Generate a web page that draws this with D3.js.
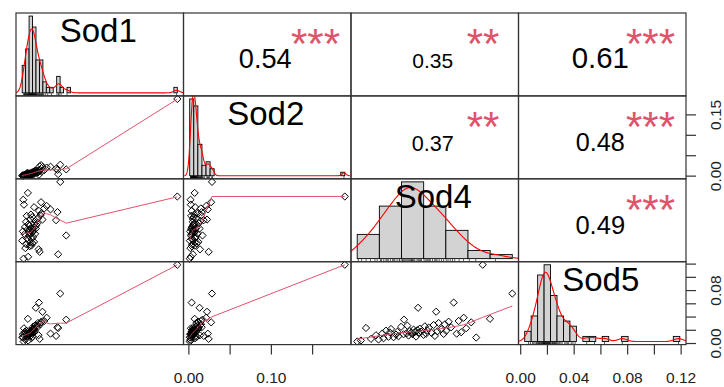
<!DOCTYPE html>
<html>
<head>
<meta charset="utf-8">
<script src="https://cdn.jsdelivr.net/npm/d3@7"></script>
<style>
body { margin: 0; background: #fff; }
svg { display: block; font-family: "Liberation Sans", Arial, sans-serif; }
</style>
</head>
<body>
<div id="chart"></div>
<script>
// variable names on the diagonal
var names = ['Sod1', 'Sod2', 'Sod4', 'Sod5'];

// observations (same order in every array)
var sod1 = [0.008, 0.021, 0.107, 0.054, 0.051, 0.013, 0.025, 0.0302, 0.016, 0.033,
            0.027, 0.038, 0.004, 0.022, 0.031, 0.018, 0.035, 0.024, 0.130, 0.011,
            0.041, 0.029, 0.023, 0.034, 0.006, 0.036, 0.026, 0.019, 0.032, 0.043,
            0.028, 0.037, 0.012, 0.025, 0.045, 0.021, 0.039, 0.047, 0.015, 0.042,
            0.101, 0.062, 0.027, 0.049, 0.033, 0.017, 0.056, 0.029, 0.059, 0.105,
            0.052, 0.085, 0.067, 0.038, 0.074, 0.009, 0.058, 0.007, 0.448, 0.0202, 0.113];
var sod2 = [0.001, 0.0022, 0.0049, 0.024, 0.0135, 0.0018, 0.0035, 0.0074, 0.004, 0.0097,
            0.0072, 0.0115, 0.0012, 0.0042, 0.0038, 0.0078, 0.0083, 0.0026, 0.0165, 0.003,
            0.0105, 0.0052, 0.0064, 0.0068, 0.0015, 0.0044, 0.006, 0.0033, 0.008, 0.013,
            0.0031, 0.0093, 0.0037, 0.0054, 0.0086, 0.0056, 0.0062, 0.012, 0.0046, 0.014,
            0.018, 0.022, 0.0048, 0.009, 0.0058, 0.0028, 0.0148, 0.0066, 0.011, 0.0155,
            0.0034, 0.023, 0.0145, 0.0076, 0.021, 0.0024, 0.027, 0.002, 0.189, 0.007, 0.028];
var sod4 = [0.0205, 0.022, 0.024, 0.026, 0.028, 0.029, 0.0305, 0.031, 0.032, 0.033,
            0.0335, 0.034, 0.035, 0.036, 0.0365, 0.037, 0.038, 0.039, 0.0392, 0.0402,
            0.0405, 0.041, 0.0415, 0.042, 0.0425, 0.043, 0.0435, 0.044, 0.0445, 0.0448,
            0.045, 0.0455, 0.046, 0.047, 0.0475, 0.048, 0.0485, 0.049, 0.0502, 0.051,
            0.0515, 0.052, 0.0525, 0.053, 0.054, 0.055, 0.0555, 0.056, 0.057, 0.058,
            0.059, 0.0602, 0.061, 0.062, 0.063, 0.064, 0.066, 0.068, 0.0706, 0.0735, 0.0824];
var sod5 = [0.003, 0.0045, 0.0235, 0.007, 0.0125, 0.006, 0.0151, 0.008, 0.0194, 0.0102,
            0.0167, 0.022, 0.0095, 0.0135, 0.0177, 0.011, 0.0252, 0.014, 0.036, 0.0153,
            0.027, 0.012, 0.0188, 0.0163, 0.0142, 0.021, 0.0173, 0.0105, 0.0202, 0.054,
            0.0157, 0.0225, 0.018, 0.013, 0.026, 0.0148, 0.0198, 0.024, 0.016, 0.028,
            0.0115, 0.048, 0.0184, 0.031, 0.0215, 0.0145, 0.029, 0.019, 0.033, 0.0245,
            0.0618, 0.0149, 0.034, 0.017, 0.039, 0.023, 0.032, 0.009, 0.119, 0.0373, 0.0755];

// histogram breaks [first, last, step] per variable
var histBreaks = [[0, 0.45, 0.01], [0, 0.19, 0.005], [0.02, 0.09, 0.01], [0, 0.12, 0.005]];

// upper panels, row by row: correlation and significance stars
var corrPairs = [[0, 1], [0, 2], [0, 3], [1, 2], [1, 3], [2, 3]];
var corrValues = [0.54, 0.35, 0.61, 0.37, 0.48, 0.49];
var corrStars = ['***', '**', '***', '**', '***', '***'];

// axes: bottom under Sod2 and Sod5, right beside Sod2 and Sod5
var sod2Ticks = [0, 0.05, 0.10, 0.15];
var sod2BottomLabels = ['0.00', '0.10'];
var sod2RightLabels = ['0.00', '0.15'];
var sod5Ticks = [0, 0.02, 0.04, 0.06, 0.08, 0.10, 0.12];
var sod5BottomLabels = ['0.00', '0.04', '0.08', '0.12'];
var sod5RightLabels = ['0.00', '0.08'];

var vars = [sod1, sod2, sod4, sod5];
var n = sod1.length;

var W = 724, H = 387;
var padL = 16, padT = 13, cw = 167.5, ch = 82.9;
var red2 = '#DF536B';

var svg = d3.select('#chart').append('svg')
    .attr('width', W)
    .attr('height', H);

function ext(v) {
    var e = d3.extent(v), p = (e[1] - e[0]) * 0.04;
    return [e[0] - p, e[1] + p];
}

var xs = vars.map((v, j) => d3.scaleLinear().domain(ext(v)).range([padL + j * cw, padL + (j + 1) * cw]));
var ys = vars.map((v, i) => d3.scaleLinear().domain(ext(v)).range([padT + (i + 1) * ch, padT + i * ch]));

// R style lowess (f = 2/3, iter = 3)
function lowest(x, y, xsi, nleft, nright, rw, useRw) {
    var nn = x.length, range = x[nn - 1] - x[0];
    var h = Math.max(xsi - x[nleft], x[nright] - xsi);
    var h9 = 0.999 * h, h1 = 0.001 * h;
    var w = new Array(nn).fill(0), a = 0, j = nleft;
    while (j < nn) {
        var r = Math.abs(x[j] - xsi);
        if (r <= h9) {
            w[j] = r <= h1 ? 1 : Math.pow(1 - Math.pow(r / h, 3), 3);
            if (useRw) w[j] *= rw[j];
            a += w[j];
        } else if (x[j] > xsi) break;
        j++;
    }
    var nrt = j - 1;
    if (a <= 0) return null;
    for (j = nleft; j <= nrt; j++) w[j] /= a;
    if (h > 0) {
        a = 0;
        for (j = nleft; j <= nrt; j++) a += w[j] * x[j];
        var b = xsi - a, c = 0;
        for (j = nleft; j <= nrt; j++) c += w[j] * (x[j] - a) * (x[j] - a);
        if (Math.sqrt(c) > 0.001 * range) {
            b /= c;
            for (j = nleft; j <= nrt; j++) w[j] *= (b * (x[j] - a) + 1);
        }
    }
    var out = 0;
    for (j = nleft; j <= nrt; j++) out += w[j] * y[j];
    return out;
}

function lowess(xv, yv, f, iter) {
    var order = d3.range(xv.length).sort((a, b) => xv[a] - xv[b]);
    var x = order.map(i => xv[i]), y = order.map(i => yv[i]);
    var nn = x.length;
    var ns = Math.max(2, Math.min(nn, Math.floor(f * nn + 1e-7)));
    var rw = new Array(nn).fill(1), fit = new Array(nn);
    for (var it = 1; it <= iter + 1; it++) {
        var nleft = 0, nright = ns - 1;
        for (var i = 0; i < nn; i++) {
            while (nright < nn - 1 && x[i] - x[nleft] > x[nright + 1] - x[i]) { nleft++; nright++; }
            var v = lowest(x, y, x[i], nleft, nright, rw, it > 1);
            fit[i] = v === null ? y[i] : v;
        }
        if (it > iter) break;
        var res = y.map((d, k) => d - fit[k]);
        var absr = res.map(Math.abs).sort((a, b) => a - b);
        var m1 = Math.floor(nn / 2);
        var cmad = nn % 2 === 0 ? 3 * (absr[m1 - 1] + absr[m1]) : 6 * absr[m1];
        if (cmad < 1e-7 * d3.mean(absr)) break;
        var c9 = 0.999 * cmad, c1 = 0.001 * cmad;
        rw = res.map(r => {
            r = Math.abs(r);
            return r <= c1 ? 1 : (r <= c9 ? Math.pow(1 - (r / cmad) * (r / cmad), 2) : 0);
        });
    }
    return x.map((d, k) => [d, fit[k]]);
}

var defs = svg.append('defs');

// diagonal: histogram + density + rug + name
vars.forEach((v, k) => {
    var x0 = padL + k * cw, y0 = padT + k * ch;
    var hb = histBreaks[k];
    var nb = Math.round((hb[1] - hb[0]) / hb[2]);
    var th = d3.range(nb + 1).map(i => +(hb[0] + i * hb[2]).toFixed(6));
    var bins = d3.bin().domain([hb[0], hb[1]]).thresholds(th.slice(1, -1))(v);
    var maxD = d3.max(bins, b => b.length) / (n * hb[2]);
    var span = hb[1] - hb[0];
    var hx = d3.scaleLinear().domain([hb[0] - 0.04 * span, hb[1] + 0.04 * span]).range([x0, x0 + cw]);
    var hy = d3.scaleLinear().domain([-0.04 * maxD, 1.04 * maxD]).range([y0 + ch, y0]);

    defs.append('clipPath').attr('id', 'clip' + k)
        .append('rect').attr('x', x0).attr('y', y0).attr('width', cw).attr('height', ch);

    var g = svg.append('g').attr('clip-path', 'url(#clip' + k + ')');

    g.selectAll('rect.bar').data(bins).enter().append('rect')
        .attr('class', 'bar')
        .attr('x', d => hx(d.x0))
        .attr('y', d => hy(d.length / (n * hb[2])))
        .attr('width', d => hx(d.x1) - hx(d.x0))
        .attr('height', d => hy(0) - hy(d.length / (n * hb[2])))
        .attr('fill', '#d3d3d3')
        .attr('stroke', '#000')
        .attr('stroke-width', 0.9);

    // gaussian kernel density, bw.nrd0
    var sorted = v.slice().sort(d3.ascending);
    var iqr = d3.quantile(sorted, 0.75) - d3.quantile(sorted, 0.25);
    var bw = 0.9 * Math.min(d3.deviation(v), iqr / 1.34) * Math.pow(n, -0.2);
    var lo = d3.min(v) - 3 * bw, hi = d3.max(v) + 3 * bw;
    var dens = d3.range(512).map(i => {
        var gx = lo + (hi - lo) * i / 511;
        return [gx, d3.mean(v, d => Math.exp(-0.5 * ((gx - d) / bw) * ((gx - d) / bw))) / (bw * Math.sqrt(2 * Math.PI))];
    });
    g.append('path')
        .attr('d', d3.line().x(d => hx(d[0])).y(d => hy(d[1]))(dens))
        .attr('fill', 'none')
        .attr('stroke', '#ff0000')
        .attr('stroke-width', 1.1);

    g.selectAll('line.rug').data(v).enter().append('line')
        .attr('x1', d => hx(d)).attr('x2', d => hx(d))
        .attr('y1', y0 + ch).attr('y2', y0 + ch - 0.03 * ch)
        .attr('stroke', '#000')
        .attr('stroke-width', 0.7);

    svg.append('text')
        .attr('x', x0 + cw / 2 - 1.5)
        .attr('y', y0 + 29)
        .attr('text-anchor', 'middle')
        .attr('font-size', 33)
        .attr('fill', '#000')
        .text(names[k]);
});

// lower panels: scatter + lowess
vars.forEach((vy, i) => {
    vars.forEach((vx, j) => {
        if (i <= j) return;
        var g = svg.append('g');
        var pts = vx.map((d, k) => [d, vy[k]]);
        g.selectAll('path.pt').data(pts).enter().append('path')
            .attr('d', d => {
                var px = xs[j](d[0]), py = ys[i](d[1]), r = 3.6;
                return 'M' + px + ',' + (py - r) + 'L' + (px + r) + ',' + py + 'L' + px + ',' + (py + r) + 'L' + (px - r) + ',' + py + 'Z';
            })
            .attr('fill', 'none')
            .attr('stroke', '#000')
            .attr('stroke-width', 1);
        var sm = lowess(vx, vy, 2 / 3, 3);
        g.append('path')
            .attr('d', d3.line().x(d => xs[j](d[0])).y(d => ys[i](d[1]))(sm))
            .attr('fill', 'none')
            .attr('stroke', red2)
            .attr('stroke-width', 1);
    });
});

// upper panels: correlation text and stars
var baseSize = 42;
corrPairs.forEach((p, k) => {
    var i = p[0], j = p[1];
    var x0 = padL + j * cw, y0 = padT + i * ch;
    var r = corrValues[k];
    svg.append('text')
        .attr('x', x0 + cw / 2 - 2)
        .attr('y', y0 + ch / 2 + 14)
        .attr('text-anchor', 'middle')
        .attr('font-size', baseSize * (Math.abs(r) + 0.3) / 1.3)
        .attr('fill', '#000')
        .text(r.toFixed(2));
    svg.append('text')
        .attr('x', x0 + cw * 0.8 - 2)
        .attr('y', y0 + 45)
        .attr('text-anchor', 'middle')
        .attr('font-size', baseSize)
        .attr('fill', red2)
        .text(corrStars[k]);
});

// panel boxes
for (var i = 0; i < 4; i++) {
    for (var j = 0; j < 4; j++) {
        svg.append('rect')
            .attr('x', padL + j * cw).attr('y', padT + i * ch)
            .attr('width', cw).attr('height', ch)
            .attr('fill', 'none')
            .attr('stroke', '#333')
            .attr('stroke-width', 1.2);
    }
}

// axes
var bottomY = padT + 4 * ch, rightX = padL + 4 * cw;
function bottomAxis(scale, ticks, labels) {
    svg.selectAll(null).data(ticks).enter().append('line')
        .attr('x1', d => scale(d)).attr('x2', d => scale(d))
        .attr('y1', bottomY).attr('y2', bottomY + 10)
        .attr('stroke', '#333').attr('stroke-width', 1.2);
    svg.selectAll(null).data(labels).enter().append('text')
        .attr('x', d => scale(+d)).attr('y', bottomY + 38)
        .attr('text-anchor', 'middle')
        .attr('font-size', 15.5)
        .attr('fill', '#222')
        .text(d => d);
}
function rightAxis(scale, ticks, labels) {
    svg.selectAll(null).data(ticks).enter().append('line')
        .attr('x1', rightX).attr('x2', rightX + 10)
        .attr('y1', d => scale(d)).attr('y2', d => scale(d))
        .attr('stroke', '#333').attr('stroke-width', 1.2);
    svg.selectAll(null).data(labels).enter().append('text')
        .attr('transform', d => 'translate(' + (rightX + 35) + ',' + scale(+d) + ') rotate(-90)')
        .attr('text-anchor', 'middle')
        .attr('font-size', 15.5)
        .attr('fill', '#222')
        .text(d => d);
}
bottomAxis(xs[1], sod2Ticks, sod2BottomLabels);
bottomAxis(xs[3], sod5Ticks, sod5BottomLabels);
rightAxis(ys[1], sod2Ticks, sod2RightLabels);
rightAxis(ys[3], sod5Ticks, sod5RightLabels);
</script>
</body>
</html>
